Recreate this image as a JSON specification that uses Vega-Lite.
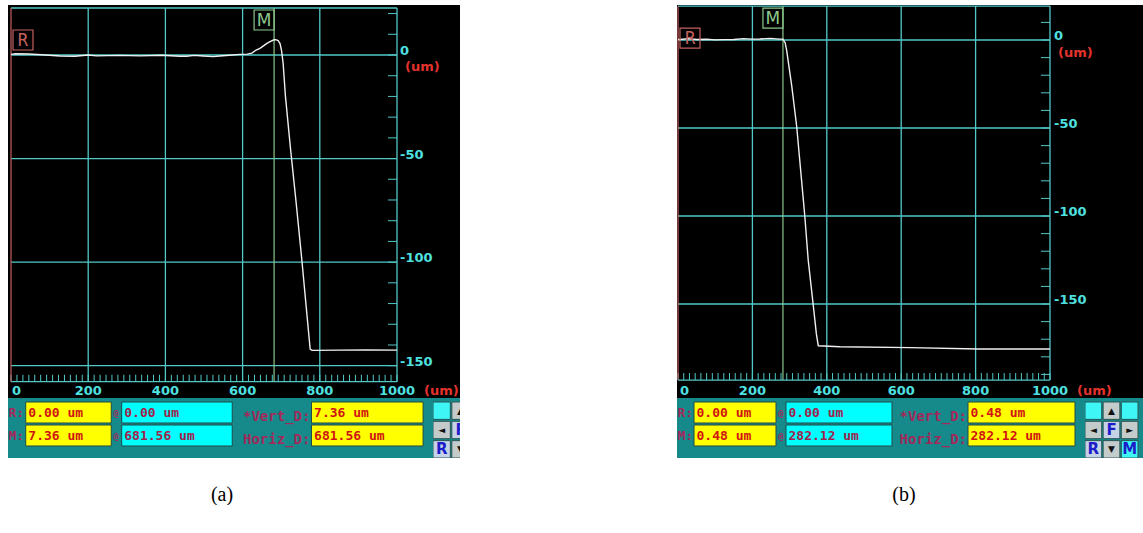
{
"$schema": "https://vega.github.io/schema/vega-lite/v6.json",
"background": "#ffffff",
"padding": {"left": 8, "top": 5, "right": 0, "bottom": 0},
"spacing": 217,
"config": {"view": {"stroke": null}},
"datasets": {
"xlabels": [{"v":0,"label":"0"},{"v":200,"label":"200"},{"v":400,"label":"400"},{"v":600,"label":"600"},{"v":800,"label":"800"},{"v":1000,"label":"1000"}],
"zlabels": [{"v":0,"label":"0"},{"v":-50,"label":"-50"},{"v":-100,"label":"-100"},{"v":-150,"label":"-150"}],
"units": [{"unit":"(um)"}],
"xticks": [{"t":0},{"t":15.4},{"t":30.8},{"t":46.2},{"t":61.5},{"t":76.9},{"t":92.3},{"t":107.7},{"t":123.1},{"t":138.5},{"t":153.8},{"t":169.2},{"t":184.6},
{"t":200},{"t":215.4},{"t":230.8},{"t":246.2},{"t":261.5},{"t":276.9},{"t":292.3},{"t":307.7},{"t":323.1},{"t":338.5},{"t":353.8},{"t":369.2},{"t":384.6},
{"t":400},{"t":415.4},{"t":430.8},{"t":446.2},{"t":461.5},{"t":476.9},{"t":492.3},{"t":507.7},{"t":523.1},{"t":538.5},{"t":553.8},{"t":569.2},{"t":584.6},
{"t":600},{"t":615.4},{"t":630.8},{"t":646.2},{"t":661.5},{"t":676.9},{"t":692.3},{"t":707.7},{"t":723.1},{"t":738.5},{"t":753.8},{"t":769.2},{"t":784.6},
{"t":800},{"t":815.4},{"t":830.8},{"t":846.2},{"t":861.5},{"t":876.9},{"t":892.3},{"t":907.7},{"t":923.1},{"t":938.5},{"t":953.8},{"t":969.2},{"t":984.6},{"t":1000}],
"zticks": [{"t":20},{"t":10},{"t":0},{"t":-10},{"t":-20},{"t":-30},{"t":-40},{"t":-50},{"t":-60},{"t":-70},{"t":-80},{"t":-90},{"t":-100},{"t":-110},{"t":-120},{"t":-130},{"t":-140},{"t":-150},{"t":-160},{"t":-170},{"t":-180},{"t":-190}],
"frame_a": [{"x_min":0,"x_max":1000,"z_min":-157.7,"z_max":22.7}],
"frame_b": [{"x_min":0,"x_max":1000,"z_min":-193.2,"z_max":19.3}],
"cursors_a": [{"marker":"R","x":0,"z":0.0},{"marker":"M","x":681.56,"z":7.36}],
"cursors_b": [{"marker":"R","x":0,"z":0.0},{"marker":"M","x":282.12,"z":0.48}],
"profile_a": [{"x":0,"z":0.3},{"x":12,"z":0.6},{"x":45,"z":0.5},{"x":80,"z":0.1},{"x":127,"z":-0.5},{"x":166,"z":-0.6},{"x":200,"z":0},{"x":222,"z":-0.4},{"x":280,"z":-0.2},{"x":334,"z":-0.4},{"x":390,"z":-0.1},{"x":438,"z":-0.6},{"x":455,"z":-0.6},{"x":475,"z":-0.2},{"x":498,"z":-0.5},{"x":524,"z":-0.8},{"x":541,"z":-0.5},{"x":565,"z":-0.1},{"x":593,"z":0.3},{"x":612,"z":0.4},{"x":624,"z":0.9},{"x":635,"z":2.4},{"x":645,"z":3.2},{"x":654,"z":4.4},{"x":663,"z":5.6},{"x":671,"z":6.5},{"x":681.56,"z":7.36},{"x":686,"z":7.4},{"x":692,"z":7.0},{"x":697,"z":5.5},{"x":701,"z":2},{"x":705,"z":-4},{"x":711,"z":-20},{"x":724,"z":-45},{"x":738,"z":-70},{"x":753,"z":-98},{"x":765,"z":-122},{"x":775,"z":-142},{"x":780,"z":-142.6},{"x":850,"z":-142.5},{"x":920,"z":-142.4},{"x":1000,"z":-142.5}],
"profile_b": [{"x":0,"z":0.3},{"x":5,"z":0.3},{"x":28,"z":0.8},{"x":50,"z":0.3},{"x":77,"z":0.4},{"x":100,"z":0.1},{"x":122,"z":0.2},{"x":150,"z":0.3},{"x":176,"z":0.8},{"x":200,"z":0.5},{"x":220,"z":0.6},{"x":247,"z":0.9},{"x":274,"z":0.5},{"x":282.12,"z":0.48},{"x":288,"z":-1.5},{"x":292,"z":-5.7},{"x":306,"z":-26.5},{"x":319,"z":-49},{"x":337,"z":-91},{"x":341,"z":-100.4},{"x":350,"z":-125},{"x":364,"z":-151.5},{"x":372,"z":-167},{"x":377,"z":-173.7},{"x":435,"z":-174.3},{"x":624,"z":-174.8},{"x":806,"z":-175.6},{"x":1000,"z":-175.6}],
"readouts_a": [{"row":"R","label":"R:","height":"0.00 um","position":"0.00 um","diff_label":"*Vert_D:","diff":"7.36 um"},{"row":"M","label":"M:","height":"7.36 um","position":"681.56 um","diff_label":"Horiz_D:","diff":"681.56 um"}],
"readouts_b": [{"row":"R","label":"R:","height":"0.00 um","position":"0.00 um","diff_label":"*Vert_D:","diff":"0.48 um"},{"row":"M","label":"M:","height":"0.48 um","position":"282.12 um","diff_label":"Horiz_D:","diff":"282.12 um"}],
"pad": [{"col":"left","row":"top","face":"blank","glyph":""},{"col":"center","row":"top","face":"arrow","glyph":"▲"},{"col":"right","row":"top","face":"blank","glyph":""},
{"col":"left","row":"middle","face":"arrow","glyph":"◄"},{"col":"center","row":"middle","face":"key","glyph":"F"},{"col":"right","row":"middle","face":"arrow","glyph":"►"},
{"col":"left","row":"bottom","face":"key","glyph":"R"},{"col":"center","row":"bottom","face":"arrow","glyph":"▼"},{"col":"right","row":"bottom","face":"blank","glyph":"M"}]
},
"hconcat": [
{
"spacing": 0,
"bounds": "flush",
"title": {"text": "(a)", "orient": "bottom", "anchor": "middle", "offset": 27, "dx": -12, "font": "Liberation Serif", "fontSize": 20, "fontWeight": "normal", "color": "#000000"},
"vconcat": [
{
"width": 452, "height": 393,
"view": {"fill": "#000000", "stroke": null},
"layer": [
{"data": {"name": "zlabels"}, "mark": {"type": "rule", "color": "#52c8c8", "strokeWidth": 1.3, "clip": true},
 "encoding": {"x": {"datum": 0, "type": "quantitative", "scale": {"domain": [-7.77, 1163.2], "nice": false, "zero": false}, "axis": null}, "x2": {"datum": 1000},
  "y": {"field": "v", "type": "quantitative", "scale": {"domain": [-165.6, 24.14], "nice": false, "zero": false}, "axis": null}}},
{"data": {"name": "xlabels"}, "transform": [{"filter": "datum.v > 0"}], "mark": {"type": "rule", "color": "#52c8c8", "strokeWidth": 1.3, "clip": true},
 "encoding": {"x": {"field": "v", "type": "quantitative", "scale": {"domain": [-7.77, 1163.2], "nice": false, "zero": false}, "axis": null},
  "y": {"datum": -157.7, "type": "quantitative", "scale": {"domain": [-165.6, 24.14], "nice": false, "zero": false}, "axis": null}, "y2": {"datum": 22.7}}},
{"data": {"name": "frame_a"}, "mark": {"type": "rule", "color": "#52c8c8", "strokeWidth": 1.3, "clip": true},
 "encoding": {"x": {"field": "x_min", "type": "quantitative", "scale": {"domain": [-7.77, 1163.2], "nice": false, "zero": false}, "axis": null}, "x2": {"field": "x_max"},
  "y": {"field": "z_max", "type": "quantitative", "scale": {"domain": [-165.6, 24.14], "nice": false, "zero": false}, "axis": null}}},
{"data": {"name": "frame_a"}, "mark": {"type": "rule", "color": "#52c8c8", "strokeWidth": 1.3, "clip": true},
 "encoding": {"x": {"field": "x_min", "type": "quantitative", "scale": {"domain": [-7.77, 1163.2], "nice": false, "zero": false}, "axis": null}, "x2": {"field": "x_max"},
  "y": {"field": "z_min", "type": "quantitative", "scale": {"domain": [-165.6, 24.14], "nice": false, "zero": false}, "axis": null}}},
{"data": {"name": "xticks"}, "mark": {"type": "tick", "orient": "vertical", "size": 7, "thickness": 1, "yOffset": -3.5, "color": "#52c8c8", "opacity": 1, "clip": true},
 "encoding": {"x": {"field": "t", "type": "quantitative", "scale": {"domain": [-7.77, 1163.2], "nice": false, "zero": false}, "axis": null},
  "y": {"datum": -157.7, "type": "quantitative", "scale": {"domain": [-165.6, 24.14], "nice": false, "zero": false}, "axis": null}}},
{"data": {"name": "zticks"}, "transform": [{"filter": "datum.t >= -157 && datum.t <= 22.7"}], "mark": {"type": "tick", "orient": "horizontal", "size": 9, "thickness": 1, "xOffset": -4.5, "color": "#52c8c8", "opacity": 1, "clip": true},
 "encoding": {"x": {"datum": 1000, "type": "quantitative", "scale": {"domain": [-7.77, 1163.2], "nice": false, "zero": false}, "axis": null},
  "y": {"field": "t", "type": "quantitative", "scale": {"domain": [-165.6, 24.14], "nice": false, "zero": false}, "axis": null}}},
{"data": {"name": "cursors_a"}, "mark": {"type": "rule", "strokeWidth": 1.2, "clip": true},
 "encoding": {"x": {"field": "x", "type": "quantitative", "scale": {"domain": [-7.77, 1163.2], "nice": false, "zero": false}, "axis": null},
  "y": {"datum": -157.7, "type": "quantitative", "scale": {"domain": [-165.6, 24.14], "nice": false, "zero": false}, "axis": null}, "y2": {"datum": 22.7},
  "color": {"field": "marker", "type": "nominal", "scale": {"domain": ["R", "M"], "range": ["#c46060", "#8cc88c"]}, "legend": null}}},
{"data": {"name": "profile_a"}, "mark": {"type": "line", "color": "#f0f0f0", "strokeWidth": 1.4, "clip": true},
 "encoding": {"x": {"field": "x", "type": "quantitative", "scale": {"domain": [-7.77, 1163.2], "nice": false, "zero": false}, "axis": null},
  "y": {"field": "z", "type": "quantitative", "scale": {"domain": [-165.6, 24.14], "nice": false, "zero": false}, "axis": null}}},
{"data": {"name": "cursors_a"}, "transform": [{"filter": "datum.marker == 'R'"}], "mark": {"type": "point", "shape": "square", "size": 400, "filled": false, "strokeWidth": 1.2, "opacity": 1, "xOffset": 12, "yOffset": 32},
 "encoding": {"x": {"field": "x", "type": "quantitative", "scale": {"domain": [-7.77, 1163.2], "nice": false, "zero": false}, "axis": null},
  "y": {"datum": 22.7, "type": "quantitative", "scale": {"domain": [-165.6, 24.14], "nice": false, "zero": false}, "axis": null},
  "color": {"field": "marker", "type": "nominal", "scale": {"domain": ["R", "M"], "range": ["#c46060", "#8cc88c"]}, "legend": null}}},
{"data": {"name": "cursors_a"}, "transform": [{"filter": "datum.marker == 'R'"}], "mark": {"type": "text", "font": "DejaVu Sans Mono", "fontSize": 17, "align": "center", "baseline": "middle", "dx": 12, "dy": 33},
 "encoding": {"x": {"field": "x", "type": "quantitative", "scale": {"domain": [-7.77, 1163.2], "nice": false, "zero": false}, "axis": null},
  "y": {"datum": 22.7, "type": "quantitative", "scale": {"domain": [-165.6, 24.14], "nice": false, "zero": false}, "axis": null},
  "text": {"field": "marker"},
  "color": {"field": "marker", "type": "nominal", "scale": {"domain": ["R", "M"], "range": ["#c46060", "#8cc88c"]}, "legend": null}}},
{"data": {"name": "cursors_a"}, "transform": [{"filter": "datum.marker == 'M'"}], "mark": {"type": "point", "shape": "square", "size": 400, "filled": false, "strokeWidth": 1.2, "opacity": 1, "xOffset": -10, "yOffset": 12},
 "encoding": {"x": {"field": "x", "type": "quantitative", "scale": {"domain": [-7.77, 1163.2], "nice": false, "zero": false}, "axis": null},
  "y": {"datum": 22.7, "type": "quantitative", "scale": {"domain": [-165.6, 24.14], "nice": false, "zero": false}, "axis": null},
  "color": {"field": "marker", "type": "nominal", "scale": {"domain": ["R", "M"], "range": ["#c46060", "#8cc88c"]}, "legend": null}}},
{"data": {"name": "cursors_a"}, "transform": [{"filter": "datum.marker == 'M'"}], "mark": {"type": "text", "font": "DejaVu Sans", "fontSize": 17, "align": "center", "baseline": "middle", "dx": -10, "dy": 13},
 "encoding": {"x": {"field": "x", "type": "quantitative", "scale": {"domain": [-7.77, 1163.2], "nice": false, "zero": false}, "axis": null},
  "y": {"datum": 22.7, "type": "quantitative", "scale": {"domain": [-165.6, 24.14], "nice": false, "zero": false}, "axis": null},
  "text": {"field": "marker"},
  "color": {"field": "marker", "type": "nominal", "scale": {"domain": ["R", "M"], "range": ["#c46060", "#8cc88c"]}, "legend": null}}},
{"data": {"name": "zlabels"}, "mark": {"type": "text", "align": "left", "baseline": "middle", "dx": 3, "dy": -4, "font": "DejaVu Sans", "fontWeight": "bold", "fontSize": 13, "color": "#4fe0e0", "clip": true},
 "encoding": {"x": {"datum": 1000, "type": "quantitative", "scale": {"domain": [-7.77, 1163.2], "nice": false, "zero": false}, "axis": null},
  "y": {"field": "v", "type": "quantitative", "scale": {"domain": [-165.6, 24.14], "nice": false, "zero": false}, "axis": null}, "text": {"field": "label"}}},
{"data": {"name": "units"}, "mark": {"type": "text", "align": "left", "baseline": "middle", "dx": 8, "dy": 12, "font": "DejaVu Sans", "fontWeight": "bold", "fontSize": 13, "color": "#e4322c", "clip": true},
 "encoding": {"x": {"datum": 1000, "type": "quantitative", "scale": {"domain": [-7.77, 1163.2], "nice": false, "zero": false}, "axis": null},
  "y": {"datum": 0, "type": "quantitative", "scale": {"domain": [-165.6, 24.14], "nice": false, "zero": false}, "axis": null}, "text": {"field": "unit"}}},
{"data": {"name": "xlabels"}, "transform": [{"filter": "datum.v > 0"}], "mark": {"type": "text", "align": "center", "baseline": "middle", "dy": 9, "font": "DejaVu Sans", "fontWeight": "bold", "fontSize": 13, "color": "#4fe0e0", "clip": true},
 "encoding": {"x": {"field": "v", "type": "quantitative", "scale": {"domain": [-7.77, 1163.2], "nice": false, "zero": false}, "axis": null},
  "y": {"datum": -157.7, "type": "quantitative", "scale": {"domain": [-165.6, 24.14], "nice": false, "zero": false}, "axis": null}, "text": {"field": "label"}}},
{"data": {"name": "xlabels"}, "transform": [{"filter": "datum.v == 0"}], "mark": {"type": "text", "align": "left", "baseline": "middle", "dx": 1, "dy": 9, "font": "DejaVu Sans", "fontWeight": "bold", "fontSize": 13, "color": "#4fe0e0", "clip": true},
 "encoding": {"x": {"field": "v", "type": "quantitative", "scale": {"domain": [-7.77, 1163.2], "nice": false, "zero": false}, "axis": null},
  "y": {"datum": -157.7, "type": "quantitative", "scale": {"domain": [-165.6, 24.14], "nice": false, "zero": false}, "axis": null}, "text": {"field": "label"}}},
{"data": {"name": "units"}, "mark": {"type": "text", "align": "left", "baseline": "middle", "dx": 27, "dy": 9, "font": "DejaVu Sans", "fontWeight": "bold", "fontSize": 13, "color": "#e4322c", "clip": true},
 "encoding": {"x": {"datum": 1000, "type": "quantitative", "scale": {"domain": [-7.77, 1163.2], "nice": false, "zero": false}, "axis": null},
  "y": {"datum": -157.7, "type": "quantitative", "scale": {"domain": [-165.6, 24.14], "nice": false, "zero": false}, "axis": null}, "text": {"field": "unit"}}}
]
},
{
"spacing": 0,
"bounds": "flush",
"hconcat": [
{
"width": 425, "height": 60,
"view": {"fill": "#168a8a", "stroke": null},
"data": {"name": "readouts_a"},
"layer": [
{"mark": {"type": "rect", "fill": "#ffff00", "stroke": "#234848", "strokeWidth": 1},
 "encoding": {"x": {"datum": 17, "type": "quantitative", "scale": {"domain": [0, 407.5], "nice": false, "zero": false}, "axis": null}, "x2": {"datum": 99},
  "y": {"field": "row", "type": "nominal", "scale": {"type": "band", "domain": ["R", "M"], "paddingInner": 0.087, "paddingOuter": 0.348, "align": 0.25}, "axis": null}}},
{"mark": {"type": "rect", "fill": "#00ffff", "stroke": "#234848", "strokeWidth": 1},
 "encoding": {"x": {"datum": 109, "type": "quantitative", "scale": {"domain": [0, 407.5], "nice": false, "zero": false}, "axis": null}, "x2": {"datum": 215},
  "y": {"field": "row", "type": "nominal", "scale": {"type": "band", "domain": ["R", "M"], "paddingInner": 0.087, "paddingOuter": 0.348, "align": 0.25}, "axis": null}}},
{"mark": {"type": "rect", "fill": "#ffff00", "stroke": "#234848", "strokeWidth": 1},
 "encoding": {"x": {"datum": 291, "type": "quantitative", "scale": {"domain": [0, 407.5], "nice": false, "zero": false}, "axis": null}, "x2": {"datum": 398},
  "y": {"field": "row", "type": "nominal", "scale": {"type": "band", "domain": ["R", "M"], "paddingInner": 0.087, "paddingOuter": 0.348, "align": 0.25}, "axis": null}}},
{"mark": {"type": "text", "align": "left", "baseline": "middle", "dy": 1, "font": "DejaVu Sans Mono", "fontWeight": "bold", "fontSize": 13, "color": "#a3285a"},
 "encoding": {"x": {"datum": 0.5, "type": "quantitative", "scale": {"domain": [0, 407.5], "nice": false, "zero": false}, "axis": null},
  "y": {"field": "row", "type": "nominal", "scale": {"type": "band", "domain": ["R", "M"], "paddingInner": 0.087, "paddingOuter": 0.348, "align": 0.25}, "axis": null}, "text": {"field": "label"}}},
{"mark": {"type": "text", "align": "left", "baseline": "middle", "dy": 2, "font": "DejaVu Sans Mono", "fontWeight": "bold", "fontSize": 9, "color": "#a3285a"},
 "encoding": {"x": {"datum": 101, "type": "quantitative", "scale": {"domain": [0, 407.5], "nice": false, "zero": false}, "axis": null},
  "y": {"field": "row", "type": "nominal", "scale": {"type": "band", "domain": ["R", "M"], "paddingInner": 0.087, "paddingOuter": 0.348, "align": 0.25}, "axis": null}, "text": {"value": "@"}}},
{"mark": {"type": "text", "align": "left", "baseline": "middle", "dy": 1, "font": "DejaVu Sans Mono", "fontWeight": "bold", "fontSize": 13, "color": "#d01414"},
 "encoding": {"x": {"datum": 19.5, "type": "quantitative", "scale": {"domain": [0, 407.5], "nice": false, "zero": false}, "axis": null},
  "y": {"field": "row", "type": "nominal", "scale": {"type": "band", "domain": ["R", "M"], "paddingInner": 0.087, "paddingOuter": 0.348, "align": 0.25}, "axis": null}, "text": {"field": "height"}}},
{"mark": {"type": "text", "align": "left", "baseline": "middle", "dy": 1, "font": "DejaVu Sans Mono", "fontWeight": "bold", "fontSize": 13, "color": "#a0224a"},
 "encoding": {"x": {"datum": 111.5, "type": "quantitative", "scale": {"domain": [0, 407.5], "nice": false, "zero": false}, "axis": null},
  "y": {"field": "row", "type": "nominal", "scale": {"type": "band", "domain": ["R", "M"], "paddingInner": 0.087, "paddingOuter": 0.348, "align": 0.25}, "axis": null}, "text": {"field": "position"}}},
{"mark": {"type": "text", "align": "right", "baseline": "middle", "dy": 5, "font": "DejaVu Sans Mono", "fontWeight": "bold", "fontSize": 14, "color": "#a3285a"},
 "encoding": {"x": {"datum": 290, "type": "quantitative", "scale": {"domain": [0, 407.5], "nice": false, "zero": false}, "axis": null},
  "y": {"field": "row", "type": "nominal", "scale": {"type": "band", "domain": ["R", "M"], "paddingInner": 0.087, "paddingOuter": 0.348, "align": 0.25}, "axis": null}, "text": {"field": "diff_label"}}},
{"mark": {"type": "text", "align": "left", "baseline": "middle", "dy": 1, "font": "DejaVu Sans Mono", "fontWeight": "bold", "fontSize": 13, "color": "#d01414"},
 "encoding": {"x": {"datum": 293.5, "type": "quantitative", "scale": {"domain": [0, 407.5], "nice": false, "zero": false}, "axis": null},
  "y": {"field": "row", "type": "nominal", "scale": {"type": "band", "domain": ["R", "M"], "paddingInner": 0.087, "paddingOuter": 0.348, "align": 0.25}, "axis": null}, "text": {"field": "diff"}}}
]
},
{
"width": 27, "height": 60,
"view": {"fill": "#168a8a", "stroke": null},
"data": {"name": "pad"},
"layer": [
{"mark": {"type": "rect", "stroke": "#2a5656", "strokeWidth": 1, "clip": true},
 "encoding": {"x": {"field": "col", "type": "nominal", "scale": {"type": "band", "domain": ["left", "center", "right"], "range": [0, 55], "paddingInner": 0.08, "paddingOuter": 0}, "axis": null},
  "y": {"field": "row", "type": "nominal", "scale": {"type": "band", "domain": ["top", "middle", "bottom"], "paddingInner": 0.1, "paddingOuter": 0.1035, "align": 1}, "axis": null},
  "fill": {"field": "face", "type": "nominal", "scale": {"domain": ["blank", "arrow", "key"], "range": ["#3ef6f6", "#c3cbcb", "#c6d2e6"]}, "legend": null}}},
{"transform": [{"filter": "datum.face == 'arrow'"}], "mark": {"type": "text", "font": "DejaVu Sans", "fontSize": 9, "color": "#111111", "align": "center", "baseline": "middle", "clip": true},
 "encoding": {"x": {"field": "col", "type": "nominal", "scale": {"type": "band", "domain": ["left", "center", "right"], "range": [0, 55], "paddingInner": 0.08, "paddingOuter": 0}, "axis": null},
  "y": {"field": "row", "type": "nominal", "scale": {"type": "band", "domain": ["top", "middle", "bottom"], "paddingInner": 0.1, "paddingOuter": 0.1035, "align": 1}, "axis": null}, "text": {"field": "glyph"}}},
{"transform": [{"filter": "datum.face != 'arrow'"}], "mark": {"type": "text", "font": "DejaVu Sans", "fontWeight": "bold", "fontSize": 15, "color": "#1c1cc8", "align": "center", "baseline": "middle", "clip": true},
 "encoding": {"x": {"field": "col", "type": "nominal", "scale": {"type": "band", "domain": ["left", "center", "right"], "range": [0, 55], "paddingInner": 0.08, "paddingOuter": 0}, "axis": null},
  "y": {"field": "row", "type": "nominal", "scale": {"type": "band", "domain": ["top", "middle", "bottom"], "paddingInner": 0.1, "paddingOuter": 0.1035, "align": 1}, "axis": null}, "text": {"field": "glyph"}}}
]
}
]
}
]
},
{
"spacing": 0,
"bounds": "flush",
"title": {"text": "(b)", "orient": "bottom", "anchor": "middle", "offset": 27, "dx": -6, "font": "Liberation Serif", "fontSize": 20, "fontWeight": "normal", "color": "#000000"},
"vconcat": [
{
"width": 466, "height": 393,
"view": {"fill": "#000000", "stroke": null},
"layer": [
{"data": {"name": "zlabels"}, "mark": {"type": "rule", "color": "#52c8c8", "strokeWidth": 1.3, "clip": true},
 "encoding": {"x": {"datum": 0, "type": "quantitative", "scale": {"domain": [-2.69, 1250], "nice": false, "zero": false}, "axis": null}, "x2": {"datum": 1000},
  "y": {"field": "v", "type": "quantitative", "scale": {"domain": [-203.4, 19.89], "nice": false, "zero": false}, "axis": null}}},
{"data": {"name": "xlabels"}, "transform": [{"filter": "datum.v > 0"}], "mark": {"type": "rule", "color": "#52c8c8", "strokeWidth": 1.3, "clip": true},
 "encoding": {"x": {"field": "v", "type": "quantitative", "scale": {"domain": [-2.69, 1250], "nice": false, "zero": false}, "axis": null},
  "y": {"datum": -193.2, "type": "quantitative", "scale": {"domain": [-203.4, 19.89], "nice": false, "zero": false}, "axis": null}, "y2": {"datum": 19.3}}},
{"data": {"name": "frame_b"}, "mark": {"type": "rule", "color": "#52c8c8", "strokeWidth": 1.3, "clip": true},
 "encoding": {"x": {"field": "x_min", "type": "quantitative", "scale": {"domain": [-2.69, 1250], "nice": false, "zero": false}, "axis": null}, "x2": {"field": "x_max"},
  "y": {"field": "z_max", "type": "quantitative", "scale": {"domain": [-203.4, 19.89], "nice": false, "zero": false}, "axis": null}}},
{"data": {"name": "frame_b"}, "mark": {"type": "rule", "color": "#52c8c8", "strokeWidth": 1.3, "clip": true},
 "encoding": {"x": {"field": "x_min", "type": "quantitative", "scale": {"domain": [-2.69, 1250], "nice": false, "zero": false}, "axis": null}, "x2": {"field": "x_max"},
  "y": {"field": "z_min", "type": "quantitative", "scale": {"domain": [-203.4, 19.89], "nice": false, "zero": false}, "axis": null}}},
{"data": {"name": "xticks"}, "mark": {"type": "tick", "orient": "vertical", "size": 7, "thickness": 1, "yOffset": -3.5, "color": "#52c8c8", "opacity": 1, "clip": true},
 "encoding": {"x": {"field": "t", "type": "quantitative", "scale": {"domain": [-2.69, 1250], "nice": false, "zero": false}, "axis": null},
  "y": {"datum": -193.2, "type": "quantitative", "scale": {"domain": [-203.4, 19.89], "nice": false, "zero": false}, "axis": null}}},
{"data": {"name": "zticks"}, "transform": [{"filter": "datum.t >= -193 && datum.t <= 19.3"}], "mark": {"type": "tick", "orient": "horizontal", "size": 9, "thickness": 1, "xOffset": -4.5, "color": "#52c8c8", "opacity": 1, "clip": true},
 "encoding": {"x": {"datum": 1000, "type": "quantitative", "scale": {"domain": [-2.69, 1250], "nice": false, "zero": false}, "axis": null},
  "y": {"field": "t", "type": "quantitative", "scale": {"domain": [-203.4, 19.89], "nice": false, "zero": false}, "axis": null}}},
{"data": {"name": "cursors_b"}, "mark": {"type": "rule", "strokeWidth": 1.2, "clip": true},
 "encoding": {"x": {"field": "x", "type": "quantitative", "scale": {"domain": [-2.69, 1250], "nice": false, "zero": false}, "axis": null},
  "y": {"datum": -193.2, "type": "quantitative", "scale": {"domain": [-203.4, 19.89], "nice": false, "zero": false}, "axis": null}, "y2": {"datum": 19.3},
  "color": {"field": "marker", "type": "nominal", "scale": {"domain": ["R", "M"], "range": ["#c46060", "#8cc88c"]}, "legend": null}}},
{"data": {"name": "profile_b"}, "mark": {"type": "line", "color": "#f0f0f0", "strokeWidth": 1.4, "clip": true},
 "encoding": {"x": {"field": "x", "type": "quantitative", "scale": {"domain": [-2.69, 1250], "nice": false, "zero": false}, "axis": null},
  "y": {"field": "z", "type": "quantitative", "scale": {"domain": [-203.4, 19.89], "nice": false, "zero": false}, "axis": null}}},
{"data": {"name": "cursors_b"}, "transform": [{"filter": "datum.marker == 'R'"}], "mark": {"type": "point", "shape": "square", "size": 400, "filled": false, "strokeWidth": 1.2, "opacity": 1, "xOffset": 12, "yOffset": 32},
 "encoding": {"x": {"field": "x", "type": "quantitative", "scale": {"domain": [-2.69, 1250], "nice": false, "zero": false}, "axis": null},
  "y": {"datum": 19.3, "type": "quantitative", "scale": {"domain": [-203.4, 19.89], "nice": false, "zero": false}, "axis": null},
  "color": {"field": "marker", "type": "nominal", "scale": {"domain": ["R", "M"], "range": ["#c46060", "#8cc88c"]}, "legend": null}}},
{"data": {"name": "cursors_b"}, "transform": [{"filter": "datum.marker == 'R'"}], "mark": {"type": "text", "font": "DejaVu Sans Mono", "fontSize": 17, "align": "center", "baseline": "middle", "dx": 12, "dy": 33},
 "encoding": {"x": {"field": "x", "type": "quantitative", "scale": {"domain": [-2.69, 1250], "nice": false, "zero": false}, "axis": null},
  "y": {"datum": 19.3, "type": "quantitative", "scale": {"domain": [-203.4, 19.89], "nice": false, "zero": false}, "axis": null},
  "text": {"field": "marker"},
  "color": {"field": "marker", "type": "nominal", "scale": {"domain": ["R", "M"], "range": ["#c46060", "#8cc88c"]}, "legend": null}}},
{"data": {"name": "cursors_b"}, "transform": [{"filter": "datum.marker == 'M'"}], "mark": {"type": "point", "shape": "square", "size": 400, "filled": false, "strokeWidth": 1.2, "opacity": 1, "xOffset": -10, "yOffset": 12},
 "encoding": {"x": {"field": "x", "type": "quantitative", "scale": {"domain": [-2.69, 1250], "nice": false, "zero": false}, "axis": null},
  "y": {"datum": 19.3, "type": "quantitative", "scale": {"domain": [-203.4, 19.89], "nice": false, "zero": false}, "axis": null},
  "color": {"field": "marker", "type": "nominal", "scale": {"domain": ["R", "M"], "range": ["#c46060", "#8cc88c"]}, "legend": null}}},
{"data": {"name": "cursors_b"}, "transform": [{"filter": "datum.marker == 'M'"}], "mark": {"type": "text", "font": "DejaVu Sans", "fontSize": 17, "align": "center", "baseline": "middle", "dx": -10, "dy": 13},
 "encoding": {"x": {"field": "x", "type": "quantitative", "scale": {"domain": [-2.69, 1250], "nice": false, "zero": false}, "axis": null},
  "y": {"datum": 19.3, "type": "quantitative", "scale": {"domain": [-203.4, 19.89], "nice": false, "zero": false}, "axis": null},
  "text": {"field": "marker"},
  "color": {"field": "marker", "type": "nominal", "scale": {"domain": ["R", "M"], "range": ["#c46060", "#8cc88c"]}, "legend": null}}},
{"data": {"name": "zlabels"}, "mark": {"type": "text", "align": "left", "baseline": "middle", "dx": 4, "dy": -4, "font": "DejaVu Sans", "fontWeight": "bold", "fontSize": 13, "color": "#4fe0e0", "clip": true},
 "encoding": {"x": {"datum": 1000, "type": "quantitative", "scale": {"domain": [-2.69, 1250], "nice": false, "zero": false}, "axis": null},
  "y": {"field": "v", "type": "quantitative", "scale": {"domain": [-203.4, 19.89], "nice": false, "zero": false}, "axis": null}, "text": {"field": "label"}}},
{"data": {"name": "units"}, "mark": {"type": "text", "align": "left", "baseline": "middle", "dx": 8, "dy": 13, "font": "DejaVu Sans", "fontWeight": "bold", "fontSize": 13, "color": "#e4322c", "clip": true},
 "encoding": {"x": {"datum": 1000, "type": "quantitative", "scale": {"domain": [-2.69, 1250], "nice": false, "zero": false}, "axis": null},
  "y": {"datum": 0, "type": "quantitative", "scale": {"domain": [-203.4, 19.89], "nice": false, "zero": false}, "axis": null}, "text": {"field": "unit"}}},
{"data": {"name": "xlabels"}, "transform": [{"filter": "datum.v > 0"}], "mark": {"type": "text", "align": "center", "baseline": "middle", "dy": 11, "font": "DejaVu Sans", "fontWeight": "bold", "fontSize": 13, "color": "#4fe0e0", "clip": true},
 "encoding": {"x": {"field": "v", "type": "quantitative", "scale": {"domain": [-2.69, 1250], "nice": false, "zero": false}, "axis": null},
  "y": {"datum": -193.2, "type": "quantitative", "scale": {"domain": [-203.4, 19.89], "nice": false, "zero": false}, "axis": null}, "text": {"field": "label"}}},
{"data": {"name": "xlabels"}, "transform": [{"filter": "datum.v == 0"}], "mark": {"type": "text", "align": "left", "baseline": "middle", "dx": 2, "dy": 11, "font": "DejaVu Sans", "fontWeight": "bold", "fontSize": 13, "color": "#4fe0e0", "clip": true},
 "encoding": {"x": {"field": "v", "type": "quantitative", "scale": {"domain": [-2.69, 1250], "nice": false, "zero": false}, "axis": null},
  "y": {"datum": -193.2, "type": "quantitative", "scale": {"domain": [-203.4, 19.89], "nice": false, "zero": false}, "axis": null}, "text": {"field": "label"}}},
{"data": {"name": "units"}, "mark": {"type": "text", "align": "left", "baseline": "middle", "dx": 27, "dy": 11, "font": "DejaVu Sans", "fontWeight": "bold", "fontSize": 13, "color": "#e4322c", "clip": true},
 "encoding": {"x": {"datum": 1000, "type": "quantitative", "scale": {"domain": [-2.69, 1250], "nice": false, "zero": false}, "axis": null},
  "y": {"datum": -193.2, "type": "quantitative", "scale": {"domain": [-203.4, 19.89], "nice": false, "zero": false}, "axis": null}, "text": {"field": "unit"}}}
]
},
{
"spacing": 0,
"bounds": "flush",
"hconcat": [
{
"width": 408, "height": 60,
"view": {"fill": "#168a8a", "stroke": null},
"data": {"name": "readouts_b"},
"layer": [
{"mark": {"type": "rect", "fill": "#ffff00", "stroke": "#234848", "strokeWidth": 1},
 "encoding": {"x": {"datum": 17, "type": "quantitative", "scale": {"domain": [0, 408], "nice": false, "zero": false}, "axis": null}, "x2": {"datum": 99},
  "y": {"field": "row", "type": "nominal", "scale": {"type": "band", "domain": ["R", "M"], "paddingInner": 0.087, "paddingOuter": 0.348, "align": 0.25}, "axis": null}}},
{"mark": {"type": "rect", "fill": "#00ffff", "stroke": "#234848", "strokeWidth": 1},
 "encoding": {"x": {"datum": 109, "type": "quantitative", "scale": {"domain": [0, 408], "nice": false, "zero": false}, "axis": null}, "x2": {"datum": 215},
  "y": {"field": "row", "type": "nominal", "scale": {"type": "band", "domain": ["R", "M"], "paddingInner": 0.087, "paddingOuter": 0.348, "align": 0.25}, "axis": null}}},
{"mark": {"type": "rect", "fill": "#ffff00", "stroke": "#234848", "strokeWidth": 1},
 "encoding": {"x": {"datum": 291, "type": "quantitative", "scale": {"domain": [0, 408], "nice": false, "zero": false}, "axis": null}, "x2": {"datum": 398},
  "y": {"field": "row", "type": "nominal", "scale": {"type": "band", "domain": ["R", "M"], "paddingInner": 0.087, "paddingOuter": 0.348, "align": 0.25}, "axis": null}}},
{"mark": {"type": "text", "align": "left", "baseline": "middle", "dy": 1, "font": "DejaVu Sans Mono", "fontWeight": "bold", "fontSize": 13, "color": "#a3285a"},
 "encoding": {"x": {"datum": 0.5, "type": "quantitative", "scale": {"domain": [0, 408], "nice": false, "zero": false}, "axis": null},
  "y": {"field": "row", "type": "nominal", "scale": {"type": "band", "domain": ["R", "M"], "paddingInner": 0.087, "paddingOuter": 0.348, "align": 0.25}, "axis": null}, "text": {"field": "label"}}},
{"mark": {"type": "text", "align": "left", "baseline": "middle", "dy": 2, "font": "DejaVu Sans Mono", "fontWeight": "bold", "fontSize": 9, "color": "#a3285a"},
 "encoding": {"x": {"datum": 101, "type": "quantitative", "scale": {"domain": [0, 408], "nice": false, "zero": false}, "axis": null},
  "y": {"field": "row", "type": "nominal", "scale": {"type": "band", "domain": ["R", "M"], "paddingInner": 0.087, "paddingOuter": 0.348, "align": 0.25}, "axis": null}, "text": {"value": "@"}}},
{"mark": {"type": "text", "align": "left", "baseline": "middle", "dy": 1, "font": "DejaVu Sans Mono", "fontWeight": "bold", "fontSize": 13, "color": "#d01414"},
 "encoding": {"x": {"datum": 19.5, "type": "quantitative", "scale": {"domain": [0, 408], "nice": false, "zero": false}, "axis": null},
  "y": {"field": "row", "type": "nominal", "scale": {"type": "band", "domain": ["R", "M"], "paddingInner": 0.087, "paddingOuter": 0.348, "align": 0.25}, "axis": null}, "text": {"field": "height"}}},
{"mark": {"type": "text", "align": "left", "baseline": "middle", "dy": 1, "font": "DejaVu Sans Mono", "fontWeight": "bold", "fontSize": 13, "color": "#a0224a"},
 "encoding": {"x": {"datum": 111.5, "type": "quantitative", "scale": {"domain": [0, 408], "nice": false, "zero": false}, "axis": null},
  "y": {"field": "row", "type": "nominal", "scale": {"type": "band", "domain": ["R", "M"], "paddingInner": 0.087, "paddingOuter": 0.348, "align": 0.25}, "axis": null}, "text": {"field": "position"}}},
{"mark": {"type": "text", "align": "right", "baseline": "middle", "dy": 5, "font": "DejaVu Sans Mono", "fontWeight": "bold", "fontSize": 14, "color": "#a3285a"},
 "encoding": {"x": {"datum": 290, "type": "quantitative", "scale": {"domain": [0, 408], "nice": false, "zero": false}, "axis": null},
  "y": {"field": "row", "type": "nominal", "scale": {"type": "band", "domain": ["R", "M"], "paddingInner": 0.087, "paddingOuter": 0.348, "align": 0.25}, "axis": null}, "text": {"field": "diff_label"}}},
{"mark": {"type": "text", "align": "left", "baseline": "middle", "dy": 1, "font": "DejaVu Sans Mono", "fontWeight": "bold", "fontSize": 13, "color": "#d01414"},
 "encoding": {"x": {"datum": 293.5, "type": "quantitative", "scale": {"domain": [0, 408], "nice": false, "zero": false}, "axis": null},
  "y": {"field": "row", "type": "nominal", "scale": {"type": "band", "domain": ["R", "M"], "paddingInner": 0.087, "paddingOuter": 0.348, "align": 0.25}, "axis": null}, "text": {"field": "diff"}}}
]
},
{
"width": 58, "height": 60,
"view": {"fill": "#168a8a", "stroke": null},
"data": {"name": "pad"},
"layer": [
{"mark": {"type": "rect", "stroke": "#2a5656", "strokeWidth": 1, "clip": true},
 "encoding": {"x": {"field": "col", "type": "nominal", "scale": {"type": "band", "domain": ["left", "center", "right"], "range": [0, 53], "paddingInner": 0.08, "paddingOuter": 0}, "axis": null},
  "y": {"field": "row", "type": "nominal", "scale": {"type": "band", "domain": ["top", "middle", "bottom"], "paddingInner": 0.1, "paddingOuter": 0.1035, "align": 1}, "axis": null},
  "fill": {"field": "face", "type": "nominal", "scale": {"domain": ["blank", "arrow", "key"], "range": ["#3ef6f6", "#c3cbcb", "#c6d2e6"]}, "legend": null}}},
{"transform": [{"filter": "datum.face == 'arrow'"}], "mark": {"type": "text", "font": "DejaVu Sans", "fontSize": 9, "color": "#111111", "align": "center", "baseline": "middle", "clip": true},
 "encoding": {"x": {"field": "col", "type": "nominal", "scale": {"type": "band", "domain": ["left", "center", "right"], "range": [0, 53], "paddingInner": 0.08, "paddingOuter": 0}, "axis": null},
  "y": {"field": "row", "type": "nominal", "scale": {"type": "band", "domain": ["top", "middle", "bottom"], "paddingInner": 0.1, "paddingOuter": 0.1035, "align": 1}, "axis": null}, "text": {"field": "glyph"}}},
{"transform": [{"filter": "datum.face != 'arrow'"}], "mark": {"type": "text", "font": "DejaVu Sans", "fontWeight": "bold", "fontSize": 15, "color": "#1c1cc8", "align": "center", "baseline": "middle", "clip": true},
 "encoding": {"x": {"field": "col", "type": "nominal", "scale": {"type": "band", "domain": ["left", "center", "right"], "range": [0, 53], "paddingInner": 0.08, "paddingOuter": 0}, "axis": null},
  "y": {"field": "row", "type": "nominal", "scale": {"type": "band", "domain": ["top", "middle", "bottom"], "paddingInner": 0.1, "paddingOuter": 0.1035, "align": 1}, "axis": null}, "text": {"field": "glyph"}}}
]
}
]
}
]
}
]
}
